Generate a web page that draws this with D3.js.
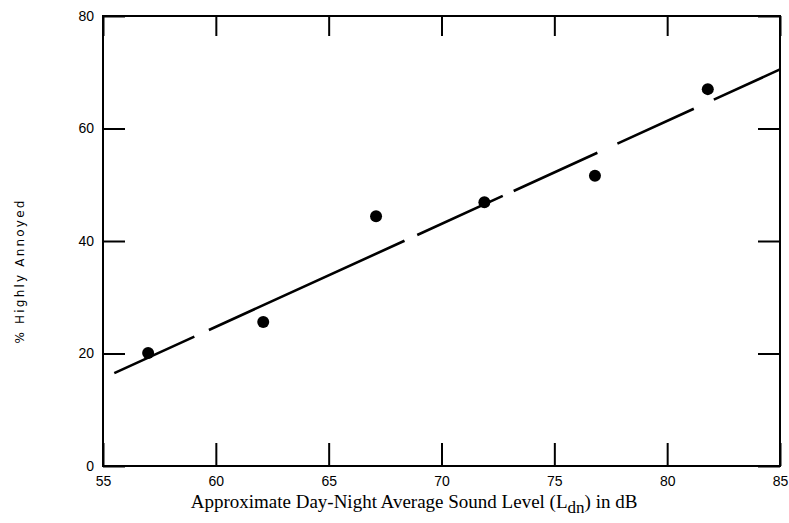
<!DOCTYPE html>
<html>
<head>
<meta charset="utf-8">
<script src="https://cdn.jsdelivr.net/npm/d3@7"></script>
<style>
  body { margin: 0; background: #fff; }
  svg { display: block; }
</style>
</head>
<body>
<div id="chart"></div>
<script>
// survey points: sound level (dB) vs % highly annoyed
var soundLevel = [57, 62.1, 67.1, 71.9, 76.8, 81.8];
var pctAnnoyed = [20.1, 25.6, 44.4, 46.9, 51.6, 67.0];
// fitted line end points
var fitLevel = [55.5, 85];
var fitPct = [16.5, 70.5];
var xTicks = [55, 60, 65, 70, 75, 80, 85];
var yTicks = [0, 20, 40, 60, 80];

var margin = {top: 16, right: 9, bottom: 57, left: 103},
	width = 789 - margin.left - margin.right,
	height = 523 - margin.top - margin.bottom;

var x = d3.scaleLinear().domain([55, 85]).range([0, width]);
var y = d3.scaleLinear().domain([0, 80]).range([height, 0]);

var svg = d3.select("#chart").append("svg")
	.attr("width", width + margin.left + margin.right)
	.attr("height", height + margin.top + margin.bottom)
.append("g")
	.attr("transform", "translate(" + margin.left + "," + margin.top + ")");

//x axis bottom
var xb = svg.append("g")
	.attr("transform", "translate(0," + height + ")")
	.call(d3.axisBottom(x).tickValues(xTicks).tickSizeInner(-23).tickSizeOuter(0).tickPadding(10));
//x axis top, ticks only
var xt = svg.append("g")
	.call(d3.axisTop(x).tickValues(xTicks).tickSizeInner(-20).tickSizeOuter(0).tickFormat(""));
//y axis left
var yl = svg.append("g")
	.call(d3.axisLeft(y).tickValues(yTicks).tickSizeInner(-22).tickSizeOuter(0).tickPadding(9));
//y axis right, ticks only
var yr = svg.append("g")
	.attr("transform", "translate(" + width + ",0)")
	.call(d3.axisRight(y).tickValues(yTicks).tickSizeInner(-22).tickSizeOuter(0).tickFormat(""));

[xb, xt, yl, yr].forEach(function(g){
	g.select(".domain").remove();
	g.selectAll("line").attr("stroke", "#000").attr("stroke-width", 2);
	g.selectAll("text")
		.attr("fill", "#000")
		.style("font-family", "'Liberation Sans', Arial, sans-serif")
		.style("font-size", "14px");
});

//frame
svg.append("rect")
	.attr("x", 0).attr("y", 0)
	.attr("width", width).attr("height", height)
	.attr("fill", "none")
	.attr("stroke", "#000")
	.attr("stroke-width", 2);

//dashed fit line
var line = d3.line()
	.x(function(d){ return x(d[0]); })
	.y(function(d){ return y(d[1]); });
svg.append("path")
	.datum(d3.zip(fitLevel, fitPct))
	.attr("d", line)
	.attr("fill", "none")
	.attr("stroke", "#000")
	.attr("stroke-width", 2.6)
	.attr("stroke-dasharray", "88,16,215,14,94,12,92,22,84,22,80");

//points
svg.selectAll(".dot")
	.data(d3.zip(soundLevel, pctAnnoyed))
.enter().append("circle")
	.attr("class", "dot")
	.attr("cx", function(d){ return x(d[0]); })
	.attr("cy", function(d){ return y(d[1]); })
	.attr("r", 6)
	.attr("fill", "#000");

//x label
var xl = svg.append("text")
	.attr("x", 311)
	.attr("y", height + 42)
	.style("text-anchor", "middle")
	.style("font-family", "'Liberation Serif', 'Times New Roman', serif")
	.style("font-size", "19px")
	.attr("fill", "#000");
xl.append("tspan").text("Approximate Day-Night Average Sound Level (L");
xl.append("tspan").attr("dy", 5).style("font-size", "17px").text("dn");
xl.append("tspan").attr("dy", -5).text(") in dB");

//y label
svg.append("text")
	.attr("transform", "rotate(-90)")
	.attr("x", -(271 - margin.top))
	.attr("y", -79)
	.style("text-anchor", "middle")
	.style("font-family", "'DejaVu Sans', Verdana, sans-serif")
	.style("font-size", "12px")
	.style("letter-spacing", "2.2px")
	.attr("fill", "#000")
	.text("% Highly Annoyed");
</script>
</body>
</html>
